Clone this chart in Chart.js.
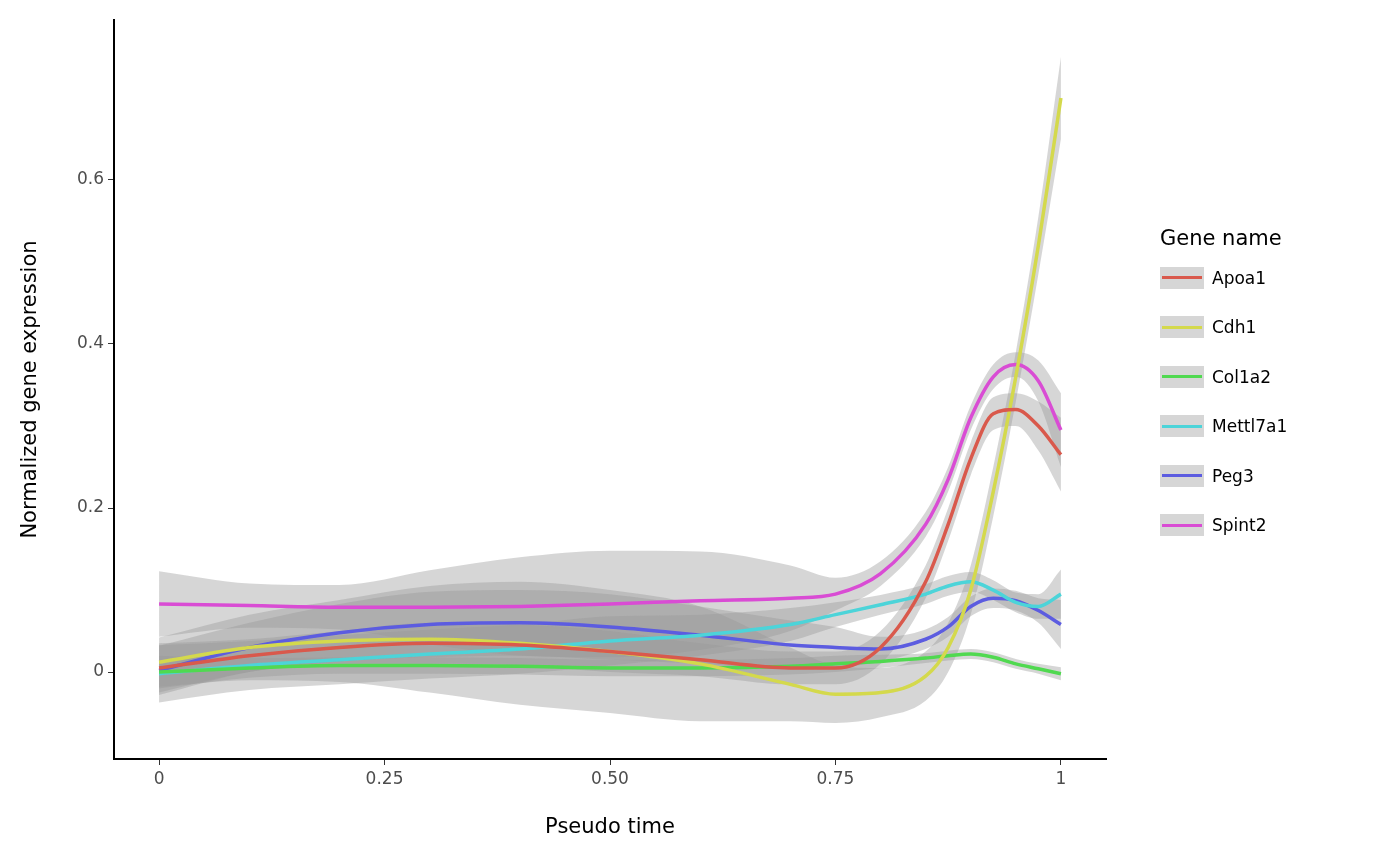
<!DOCTYPE html>
<html>
<head>
<script src="https://cdn.jsdelivr.net/npm/chart.js@4"></script>
<style>
body { margin:0; background:#fff; font-family:"DejaVu Sans",sans-serif; }
#wrap { position:relative; width:1390px; height:858px; }
#legend { position:absolute; left:1160px; top:226px; }
#legend .t { font-size:21px; color:#000; margin-bottom:16px; }
#legend .it { height:49.5px; display:flex; align-items:center; font-size:17px; position:relative; top:-13px; }
#legend .k { width:44px; height:22px; background:#d6d6d6; position:relative; margin-right:8px; }
#legend .k i { position:absolute; left:2px; right:2px; top:9.5px; height:3px; }
</style>
</head>
<body>
<div id="wrap"><canvas id="c" width="1390" height="858"></canvas><div id="legend"></div></div>
<script>
var xs = [0,0.1,0.2,0.3,0.4,0.5,0.6,0.7,0.75,0.8,0.85,0.875,0.9,0.925,0.95,0.975,1];
var genes = ["Apoa1","Cdh1","Col1a2","Mettl7a1","Peg3","Spint2"];
var colors = ["#d9594c","#d4d94c","#50d950","#4cd4d9","#5c5ce0","#d94cd4"];
var apoa1 = [0.005,0.02,0.03,0.035,0.033,0.025,0.015,0.005,0.005,0.03,0.11,0.18,0.26,0.315,0.32,0.3,0.265];
var apoa1Se = [0.03,0.02,0.02,0.025,0.025,0.025,0.02,0.02,0.02,0.02,0.02,0.02,0.02,0.02,0.02,0.03,0.045];
var cdh1 = [0.012,0.03,0.038,0.04,0.035,0.025,0.01,-0.015,-0.027,-0.025,-0.005,0.03,0.1,0.22,0.36,0.52,0.7];
var cdh1Se = [0.03,0.04,0.05,0.065,0.075,0.075,0.07,0.045,0.035,0.03,0.03,0.03,0.03,0.03,0.03,0.035,0.05];
var col1a2 = [0,0.005,0.008,0.008,0.007,0.005,0.005,0.007,0.01,0.013,0.017,0.02,0.022,0.018,0.01,0.004,-0.002];
var col1a2Se = [0.02,0.012,0.01,0.01,0.01,0.01,0.01,0.01,0.01,0.008,0.006,0.006,0.006,0.006,0.006,0.006,0.008];
var mettl7a1 = [-0.002,0.008,0.015,0.022,0.028,0.038,0.045,0.058,0.07,0.082,0.095,0.105,0.11,0.1,0.085,0.08,0.095];
var mettl7a1Se = [0.035,0.03,0.03,0.03,0.03,0.03,0.025,0.02,0.015,0.012,0.012,0.012,0.012,0.012,0.012,0.015,0.03];
var peg3 = [0.002,0.03,0.048,0.058,0.06,0.055,0.045,0.033,0.03,0.028,0.04,0.055,0.08,0.09,0.087,0.075,0.058];
var peg3Se = [0.03,0.03,0.035,0.04,0.04,0.04,0.035,0.03,0.025,0.015,0.012,0.012,0.012,0.012,0.012,0.015,0.03];
var spint2 = [0.083,0.081,0.079,0.079,0.08,0.083,0.087,0.09,0.095,0.12,0.18,0.235,0.31,0.36,0.375,0.355,0.295];
var spint2Se = [0.04,0.027,0.027,0.045,0.06,0.065,0.06,0.04,0.02,0.015,0.015,0.015,0.015,0.015,0.015,0.025,0.045];
var xTicks = [0,0.25,0.5,0.75,1], xTickLabels = ["0","0.25","0.50","0.75","1"];
var yTicks = [0,0.2,0.4,0.6], yTickLabels = ["0","0.2","0.4","0.6"];

var series = [apoa1,cdh1,col1a2,mettl7a1,peg3,spint2];
var ses = [apoa1Se,cdh1Se,col1a2Se,mettl7a1Se,peg3Se,spint2Se];

function pts(v, se, s) {
    return xs.map(function (x, i) { return {x: x, y: v[i] + s * se[i]}; });
}
var datasets = [];
for (var g = 0; g < genes.length; g++) {
    datasets.push({data: pts(series[g], ses[g], -1), borderWidth: 0, pointRadius: 0, fill: false, cubicInterpolationMode: 'monotone', order: 2});
    datasets.push({data: pts(series[g], ses[g], 1), borderWidth: 0, pointRadius: 0, fill: '-1',
        backgroundColor: 'rgba(153,153,153,0.4)', cubicInterpolationMode: 'monotone', order: 2});
}
for (var g = 0; g < genes.length; g++) {
    datasets.push({label: genes[g], data: pts(series[g], ses[g], 0), borderColor: colors[g], borderWidth: 3.5,
        pointRadius: 0, fill: false, cubicInterpolationMode: 'monotone', order: 1});
}

var tickFont = {family: "DejaVu Sans", size: 17};
var titleFont = {family: "DejaVu Sans", size: 21};
new Chart(document.getElementById("c").getContext("2d"), {
    type: 'line',
    data: {datasets: datasets},
    options: {
        responsive: false, animation: false,
        layout: {padding: {top: 20, right: 284, left: 0, bottom: 0}},
        plugins: {legend: {display: false}, tooltip: {enabled: false}},
        scales: {
            x: {
                type: 'linear', min: -0.05, max: 1.05,
                afterBuildTicks: function (a) { a.ticks = xTicks.map(function (v) { return {value: v}; }); },
                afterFit: function (a) { a.height = 99; },
                ticks: {color: '#4d4d4d', font: tickFont, maxRotation: 0, padding: 4,
                    callback: function (v) { return xTickLabels[xTicks.indexOf(v)]; }},
                grid: {display: true, drawOnChartArea: false, tickLength: 6, color: '#333', tickColor: '#333'},
                border: {color: '#000', width: 2},
                title: {display: true, text: 'Pseudo time', color: '#000', font: titleFont, padding: {top: 0, bottom: 18}}
            },
            y: {
                min: -0.106, max: 0.795,
                afterBuildTicks: function (a) { a.ticks = yTicks.map(function (v) { return {value: v}; }); },
                afterFit: function (a) { a.width = 114; },
                ticks: {color: '#4d4d4d', font: tickFont, padding: 4,
                    callback: function (v) { return yTickLabels[yTicks.indexOf(v)]; }},
                grid: {display: true, drawOnChartArea: false, tickLength: 6, color: '#333', tickColor: '#333'},
                border: {color: '#000', width: 2},
                title: {display: true, text: 'Normalized gene expression', color: '#000', font: titleFont, padding: {top: 18, bottom: 0}}
            }
        }
    }
});

var lg = document.getElementById("legend");
var html = '<div class="t">Gene name</div>';
genes.forEach(function (n, i) {
    html += '<div class="it"><div class="k"><i style="background:' + colors[i] + '"></i></div>' + n + '</div>';
});
lg.innerHTML = html;
</script>
</body>
</html>
